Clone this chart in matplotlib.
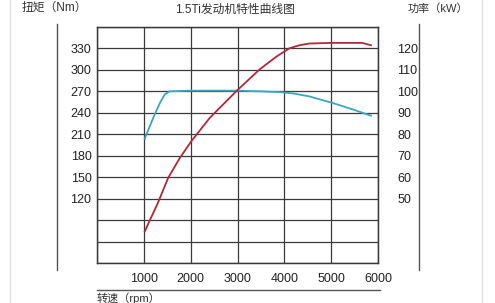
import matplotlib.pyplot as plt
from matplotlib.lines import Line2D

plt.rcParams['font.family'] = ['Liberation Sans', 'Noto Sans CJK SC', 'DejaVu Sans']

# data
rpm_torque = [1020, 1200, 1345, 1450, 1550, 2000, 2500, 3000, 3500, 3900, 4200, 4530, 5020, 5450, 5850]
torque = [204, 233, 254, 266, 270, 271, 271, 271, 270, 269, 267, 263, 254, 245, 236]
rpm_power = [1020, 1300, 1520, 1770, 2015, 2410, 2990, 3470, 3830, 4110, 4325, 4530, 5020, 5660, 5850]
power = [34.8, 48, 59.7, 69.0, 76.8, 87.7, 100.4, 110.2, 116.2, 120.1, 121.5, 122.3, 122.6, 122.6, 121.5]

x_ticks = [0, 1000, 2000, 3000, 4000, 5000, 6000]
x_labels = ['', '1000', '2000', '3000', '4000', '5000', '6000']
t_ticks = [30, 60, 90, 120, 150, 180, 210, 240, 270, 300, 330, 360]
t_labels = ['', '', '', '120', '150', '180', '210', '240', '270', '300', '330', '']
p_ticks = [20, 30, 40, 50, 60, 70, 80, 90, 100, 110, 120, 130]
p_labels = ['', '', '', '50', '60', '70', '80', '90', '100', '110', '120', '']

W, H = 495, 303
fig = plt.figure(figsize=(W / 100, H / 100), dpi=100)
ax = fig.add_axes([97 / W, 1 - 263 / H, (378 - 97) / W, (263 - 27) / H])
ax2 = ax.twinx()

grid_c = '#3a3a3a'
ax.set_xlim(0, 6000)
ax.set_ylim(30, 360)
ax2.set_ylim(20, 130)
ax.set_xticks(x_ticks)
ax.set_xticklabels(x_labels)
ax.set_yticks(t_ticks)
ax.set_yticklabels(t_labels)
ax2.set_yticks(p_ticks)
ax2.set_yticklabels(p_labels, ha='left')
ax.grid(True, color=grid_c, linewidth=0.9)
ax.set_axisbelow(True)
ax.tick_params(axis='both', length=0, labelsize=9, colors='#222222')
ax.tick_params(axis='x', pad=7)
ax.tick_params(axis='y', pad=4)
ax2.tick_params(axis='y', length=0, labelsize=9, colors='#222222', pad=14)
for a in (ax, ax2):
    for s in a.spines.values():
        s.set_color(grid_c)
        s.set_linewidth(0.9)

ax.plot(rpm_torque, torque, color='#3aa6c2', linewidth=1.3, zorder=3)
ax2.plot(rpm_power, power, color='#b0283a', linewidth=1.3, zorder=3)


def px_line(x0, y0, x1, y1, color, lw):
    fig.add_artist(Line2D([x0 / W, x1 / W], [1 - y0 / H, 1 - y1 / H],
                          color=color, linewidth=lw, transform=fig.transFigure))


# outer side lines
px_line(57, 24, 57, 270, '#555555', 1.0)
px_line(419, 24, 419, 270, '#555555', 1.0)
px_line(97, 290, 380, 290, '#555555', 1.0)
px_line(10, 0, 10, 303, '#dddddd', 1.0)
px_line(482, 0, 482, 303, '#dddddd', 1.0)

fig.text(22 / W, 1 - 8 / H, '扭矩（Nm）', fontsize=8.5, color='#333333', va='center')
fig.text(235 / W, 1 - 10 / H, '1.5Ti发动机特性曲线图', fontsize=8.5, color='#333333',
         va='center', ha='center')
fig.text(408 / W, 1 - 9 / H, '功率（kW）', fontsize=8, color='#333333', va='center')
fig.text(97 / W, 1 - 292 / H, '转速（rpm）', fontsize=8, color='#333333', va='top')

fig.savefig('out.png', dpi=100)
